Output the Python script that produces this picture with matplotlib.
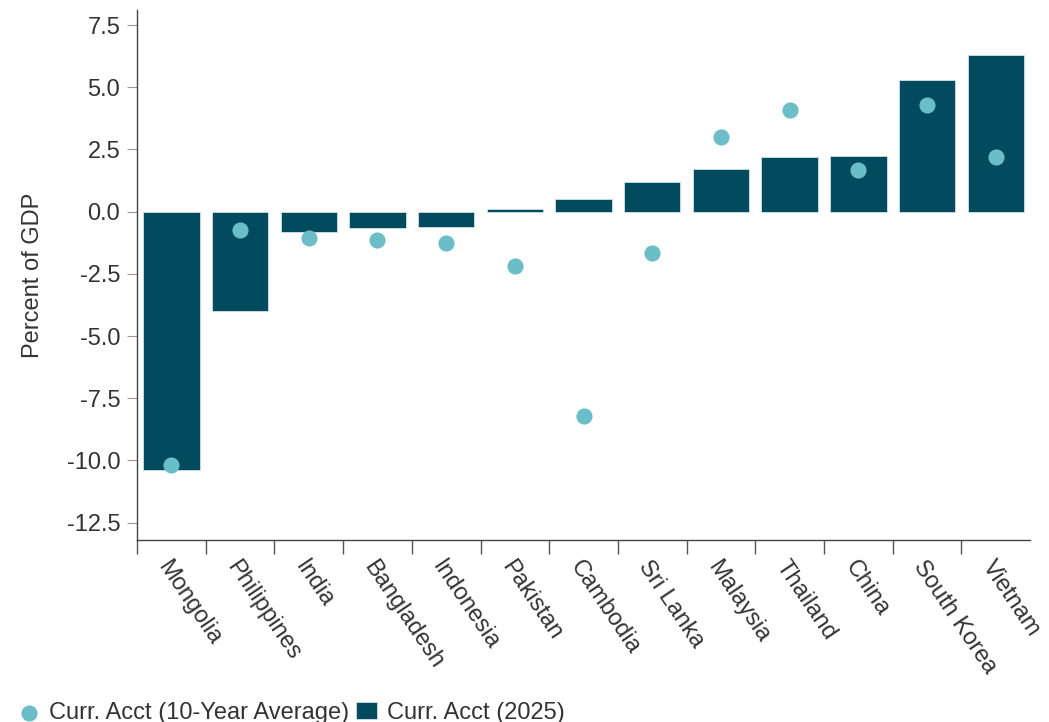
import matplotlib.pyplot as plt
import numpy as np

plt.rcParams['font.family'] = ['Liberation Sans', 'DejaVu Sans']

countries = ['Mongolia', 'Philippines', 'India', 'Bangladesh', 'Indonesia', 'Pakistan',
             'Cambodia', 'Sri Lanka', 'Malaysia', 'Thailand', 'China', 'South Korea', 'Vietnam']
acct_2025 = [-10.4, -4.0, -0.8, -0.65, -0.6, 0.12, 0.5, 1.2, 1.7, 2.2, 2.25, 5.3, 6.3]
acct_10yr = [-10.2, -0.72, -1.05, -1.13, -1.28, -2.2, -8.2, -1.65, 3.0, 4.08, 1.68, 4.3, 2.2]

bar_color = '#024a5e'
dot_color = '#6bbdc8'
grey = '#333333'
fs = 17

fig = plt.figure(figsize=(10.49, 7.22), dpi=100)
ax = fig.add_axes([0.1306, 0.252, 0.8514, 0.734])

x = np.arange(len(countries))
sc = ax.scatter(x, acct_10yr, s=135, color=dot_color, label='Curr. Acct (10-Year Average)',
                zorder=3, linewidths=0)
bars = ax.bar(x, acct_2025, width=0.82, color=bar_color, edgecolor='#cfe3e8', linewidth=0.6,
              label='Curr. Acct (2025)', zorder=2)

ax.set_xlim(-0.5, 12.5)
ax.set_ylim(-13.2, 8.1)
yt = np.arange(-12.5, 7.6, 2.5)
ax.set_yticks(yt)
ax.set_yticklabels(['{:.1f}'.format(v) for v in yt])
ax.set_ylabel('Percent of GDP', fontsize=fs, color=grey, labelpad=16)

# ticks at category boundaries, labels at centres
ax.set_xticks(np.arange(-0.5, 12, 1))
ax.set_xticklabels([])
ax.set_xticks(x, minor=True)
ax.set_xticklabels(countries, minor=True, rotation=-56, ha='left', va='top',
                   rotation_mode='anchor', fontsize=fs, color=grey)
ax.tick_params(axis='x', which='major', length=10, color='#555555', width=1)
ax.tick_params(axis='x', which='minor', length=0, pad=12)
ax.tick_params(axis='y', length=7, color='#999999', labelsize=fs, labelcolor=grey, pad=5)

for s in ['top', 'right']:
    ax.spines[s].set_visible(False)
for s in ['left', 'bottom']:
    ax.spines[s].set_color('#444444')
    ax.spines[s].set_linewidth(1)

fig.legend([sc, bars], [sc.get_label(), bars.get_label()], loc='lower left',
           bbox_to_anchor=(-0.003, -0.032), ncol=2, frameon=False, fontsize=fs,
           handlelength=0.9, handletextpad=0.4, columnspacing=0.3, labelcolor=grey)

fig.savefig('out.png', dpi=100)
